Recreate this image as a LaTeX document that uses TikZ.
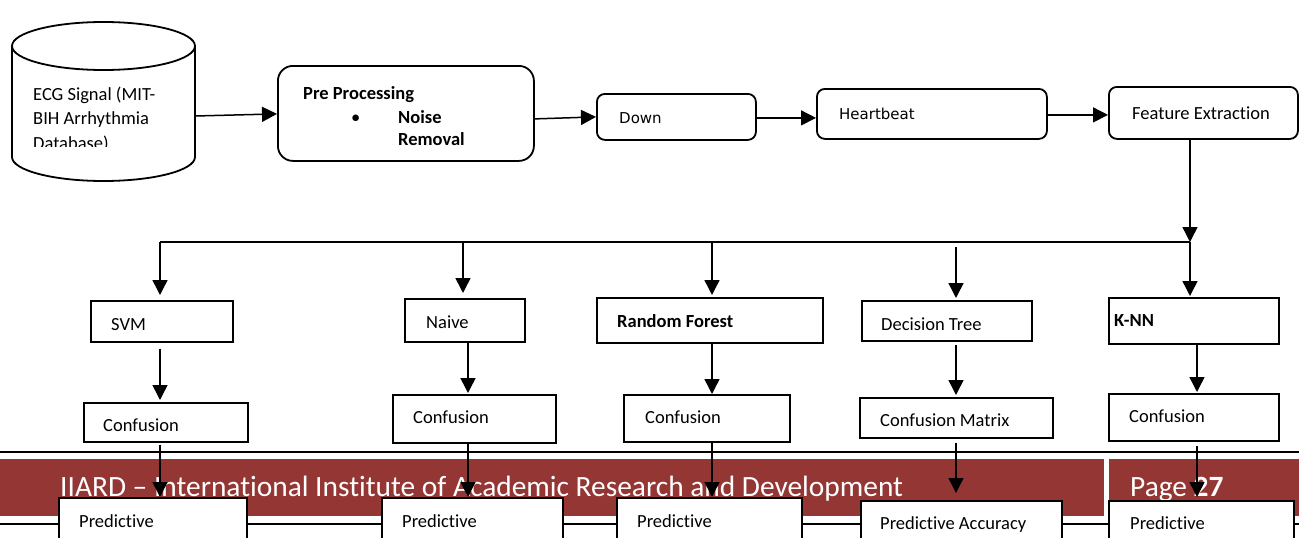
\documentclass[tikz,border=0pt]{standalone}
\usepackage{fontspec}
\setmainfont{Carlito}[Ligatures={TeX,NoCommon}]
\newfontfamily\dvs{DejaVu Sans}
\usetikzlibrary{arrows.meta,calc}
\definecolor{banner}{RGB}{148,54,52}
\begin{document}
\begin{tikzpicture}[x=1pt,y=-1pt,
  box/.style={draw, line width=1.6pt, fill=white, inner sep=0pt, anchor=north west},
  rbox/.style={box, rounded corners=8pt, line width=1.8pt},
  lbl/.style={anchor=base west, inner sep=0pt, font=\fontsize{18.5}{20}\selectfont},
  blbl/.style={lbl, font=\fontsize{18.5}{20}\selectfont\bfseries},
  dlbl/.style={anchor=base west, inner sep=0pt, font=\dvs\fontsize{15}{17}\selectfont},
  foot/.style={anchor=base west, inner sep=0pt, text=white, font=\fontsize{29.4}{31}\selectfont},
  arr/.style={line width=1.5pt, -{Triangle[length=15pt,width=15pt]}},
  ln/.style={line width=1.5pt}]
\clip (0,0) rectangle (1299,538);
\fill[white] (0,0) rectangle (1299,538);

% footer band
\fill[banner] (0,459) rectangle (1104,516);
\fill[banner] (1109,459) rectangle (1299,516);
\draw[line width=1.3pt] (0,452) -- (1299,452);
\draw[line width=1.3pt] (0,524) -- (1299,524);
\node[foot] (ftext) at (60,496) {IIARD – International Institute of Academic Research and Development};
\node[foot] (fpage) at (1130,496) {Page \textbf{27}};

% database cylinder
\node[inner sep=0pt, minimum width=183pt, minimum height=159pt] (db) at (103.5,101.5) {};
\draw[line width=1.8pt, fill=white] (12,46) -- (12,157) arc[start angle=180, end angle=360, x radius=91.5pt, y radius=24pt] -- (195,46);
\draw[line width=1.8pt, fill=white] (103.5,46) ellipse [x radius=91.5pt, y radius=24pt];
\begin{scope}
\clip (20,60) rectangle (190,146.5);
\node[lbl] (db1) at (33,100) {ECG Signal (MIT-};
\node[lbl] (db2) at (33,124.5) {BIH Arrhythmia};
\node[lbl] (db3) at (33,149.5) {Database)};
\end{scope}

% top row
\node[rbox, rounded corners=15pt, minimum width=256pt, minimum height=95pt] (pre) at (277,65) {};
\node[blbl] (pre1) at (303,99) {Pre Processing};
\node[lbl] (pre2) at (351,123) {•};
\node[blbl] (pre3) at (398,123) {Noise};
\node[blbl] (pre4) at (398,145) {Removal};

\node[rbox, minimum width=159pt, minimum height=46pt] (down) at (596,93) {};
\node[dlbl] (tdown) at (619,123.5) {Down};
\node[rbox, minimum width=230pt, minimum height=50pt] (hb) at (816,88) {};
\node[dlbl] (thb) at (839,119.5) {Heartbeat};
\node[rbox, minimum width=189pt, minimum height=52pt] (fe) at (1108,86) {};
\node[lbl] (tfe) at (1132,119) {Feature Extraction};

\coordinate (dbout) at ($(db.east)+(0,14.5)$);
\draw[arr] (dbout) -- ($(pre.west)+(0,0.5)$);
\draw[arr] ($(pre.east)+(0,5.5)$) -- (down.west);
\draw[arr] ($(down.east)+(0,1)$) -- ($(hb.west)+(0,4)$);
\draw[arr] ($(hb.east)+(0,1)$) -- ($(fe.west)+(0,2)$);

% classifier boxes
\node[box, minimum width=142pt, minimum height=41pt] (svm) at (90,300) {};
\node[lbl] (tsvm) at (111,330) {SVM};
\node[box, minimum width=164pt, minimum height=39pt] (c1) at (83,402) {};
\node[lbl] (tc1) at (103,431) {Confusion};
\node[box, minimum width=188pt, minimum height=70pt] (p1) at (58,497) {};
\node[lbl] (tp1) at (79,527) {Predictive};

\node[box, minimum width=120pt, minimum height=43pt] (nb) at (404,298) {};
\node[lbl] (tnb) at (426,328) {Naive};
\node[box, minimum width=163pt, minimum height=48pt] (c2) at (392,394) {};
\node[lbl] (tc2) at (413,423) {Confusion};
\node[box, minimum width=181pt, minimum height=70pt] (p2) at (381,497) {};
\node[lbl] (tp2) at (402,527) {Predictive};

\node[box, minimum width=226pt, minimum height=45pt] (rf) at (596,297) {};
\node[blbl] (trf) at (617,327) {Random Forest};
\node[box, minimum width=166pt, minimum height=47pt] (c3) at (623,394) {};
\node[lbl] (tc3) at (645,423) {Confusion};
\node[box, minimum width=185pt, minimum height=70pt] (p3) at (616,497) {};
\node[lbl] (tp3) at (637,527) {Predictive};

\node[box, minimum width=170pt, minimum height=40pt] (dt) at (861,300) {};
\node[lbl] (tdt) at (881,330) {Decision Tree};
\node[box, minimum width=193pt, minimum height=40pt] (cm) at (859,397) {};
\node[lbl] (tcm) at (880,426) {Confusion Matrix};
\node[box, minimum width=201pt, minimum height=70pt] (p4) at (860,500) {};
\node[lbl] (tp4) at (880,529) {Predictive Accuracy};

\node[box, minimum width=170pt, minimum height=46pt] (knn) at (1108,297) {};
\node[blbl] (tknn) at (1114,326) {K-NN};
\node[box, minimum width=170pt, minimum height=47pt] (c5) at (1108,393) {};
\node[lbl] (tc5) at (1129,422) {Confusion};
\node[box, minimum width=185pt, minimum height=70pt] (p5) at (1108,500) {};
\node[lbl] (tp5) at (1130,529) {Predictive};

% distribution line
\coordinate (cA) at (160,242);
\coordinate (cB) at (463,242);
\coordinate (cB2) at (468,242);
\coordinate (cC) at (712,242);
\coordinate (cD) at (956,242);
\coordinate (cE) at (1190,242);
\coordinate (cE2) at (1197,242);
\draw[arr] (fe.south -| cE) -- (cE);
\draw[ln] (cE) -- (cA);

\draw[arr, shorten >=5pt] (cA) -- (cA |- svm.north);
\draw[arr, shorten <=6pt, shorten >=2pt] (cA |- svm.south) -- (cA |- c1.north);
\draw[arr, shorten <=2pt] (cA |- c1.south) -- (cA |- p1.north);

\draw[arr, shorten >=5pt] (cB) -- (cB |- nb.north);
\draw[arr, shorten >=1pt] (cB2 |- nb.south) -- (cB2 |- c2.north);
\draw[arr] (cB2 |- c2.south) -- (cB2 |- p2.north);

\draw[arr, shorten >=2pt] (cC) -- (cC |- rf.north);
\draw[arr] (cC |- rf.south) -- (cC |- c3.north);
\draw[arr] (cC |- c3.south) -- (cC |- p3.north);

\draw[arr, shorten <=5pt, shorten >=2pt] (cD) -- (cD |- dt.north);
\draw[arr, shorten <=3pt, shorten >=2pt] (cD |- dt.south) -- (cD |- cm.north);
\draw[arr, shorten <=4pt, shorten >=7pt] (cD |- cm.south) -- (cD |- p4.north);

\draw[arr, shorten >=1pt] (cE) -- (cE |- knn.north);
\draw[arr, shorten >=1pt] (cE2 |- knn.south) -- (cE2 |- c5.north);
\draw[arr, shorten <=4pt, shorten >=3pt] (cE2 |- c5.south) -- (cE2 |- p5.north);
\end{tikzpicture}
\end{document}
